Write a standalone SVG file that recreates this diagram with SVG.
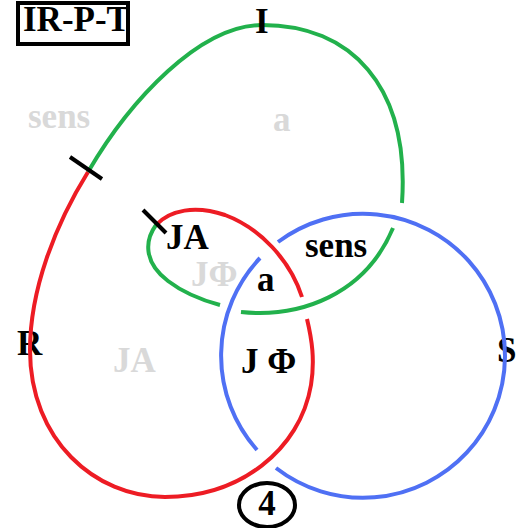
<svg xmlns="http://www.w3.org/2000/svg" width="521" height="528" viewBox="0 0 521 528">
  <style>
    .lbl { font-family: "Liberation Serif", "Times New Roman", serif; font-weight: bold; font-size: 35px; fill: #000; }
    .ghost { fill: #d9d9d9; }
    .strand { fill: none; stroke-width: 4; stroke-linecap: butt; }
    .red { stroke: #ed1c24; }
    .green { stroke: #22b14c; }
    .blue { stroke: #4f70f4; }
    .tick { stroke: #000; stroke-width: 4; }
  </style>
  <rect width="521" height="528" fill="#fff"/>

  <!-- title box -->
  <g id="title">
    <rect x="18" y="3" width="110" height="41" fill="#fff" stroke="#000" stroke-width="4"/>
    <text class="lbl" x="23" y="31" font-size="31">IR-P-T</text>
  </g>

  <!-- region labels -->
  <g id="labels">
    <text class="lbl ghost" x="28" y="128">sens</text>
    <text class="lbl ghost" x="273" y="131">a</text>
    <text class="lbl" x="166" y="249">JA</text>
    <text class="lbl ghost" x="191" y="286">JΦ</text>
    <text class="lbl" x="257" y="291">a</text>
    <text class="lbl" x="305" y="257">sens</text>
    <text class="lbl" x="17" y="355">R</text>
    <text class="lbl ghost" x="113" y="372">JA</text>
    <text class="lbl" x="241" y="373">J Φ</text>
    <text class="lbl" x="497" y="362">S</text>
  </g>

  <!-- strands of the closed curve and the circle -->
  <g id="connectors">
    <g id="strand-red">
      <path class="strand red" d="M 88,172 C 55,225 30,290 30,350 C 30,440 95,497 165,497 C 240,497 300,450 311,385 C 315,360 312,340 307,319"/>
      <path class="strand red" d="M 156,225 C 170,210 195,205 225,215 C 260,228 290,260 302,297"/>
    </g>
    <g id="strand-green">
      <path class="strand green" d="M 88,172 C 130,100 200,25 262,25 C 350,25 410,85 402,203"/>
      <path class="strand green" d="M 156,225 C 145,240 143,262 168,281 C 185,294 205,301 220,305"/>
      <path class="strand green" d="M 241,312 C 300,318 365,295 393,228"/>
    </g>
    <g id="strand-blue">
      <path class="strand blue" d="M 278,242 A 142 142 0 1 1 276,468"/>
      <path class="strand blue" d="M 260,258 A 142 142 0 0 0 257,450"/>
    </g>
    <g id="ticks">
      <line class="tick" x1="70" y1="157" x2="102" y2="179"/>
      <line class="tick" x1="143" y1="210" x2="166" y2="233"/>
    </g>
  </g>

  <g id="node-I">
    <text class="lbl" x="255" y="33" font-size="37">I</text>
  </g>

  <g id="node-4">
    <ellipse cx="267" cy="505" rx="28" ry="22" fill="none" stroke="#000" stroke-width="4"/>
    <text class="lbl" x="267" y="515" font-size="28" text-anchor="middle">4</text>
  </g>
</svg>
